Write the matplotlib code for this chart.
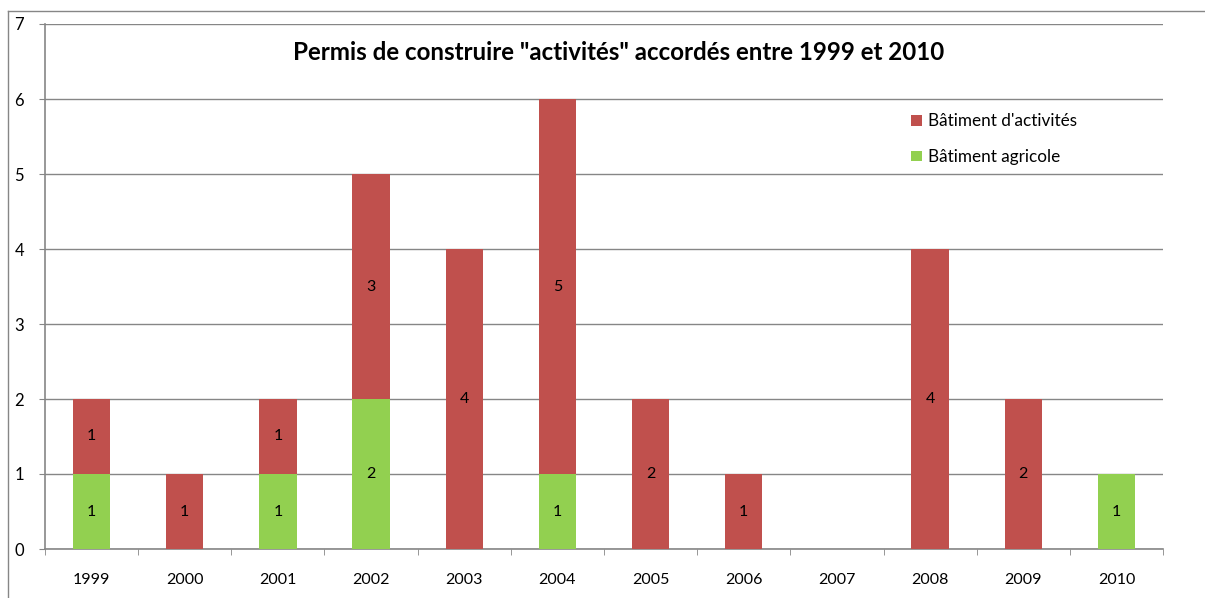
import numpy as np
import matplotlib.pyplot as plt
from matplotlib.lines import Line2D

annees = ["1999", "2000", "2001", "2002", "2003", "2004",
          "2005", "2006", "2007", "2008", "2009", "2010"]
agricole = [1, 0, 1, 2, 0, 1, 0, 0, 0, 0, 0, 1]
activites = [1, 1, 1, 3, 4, 5, 2, 1, 0, 4, 2, 0]

rouge = "#C0504D"
vert = "#92D050"
gris = "#868686"

plt.rcParams['font.family'] = ['Lato', 'DejaVu Sans']

fig = plt.figure(figsize=(12.05, 5.98), dpi=100)
ax = fig.add_axes([45 / 1205, 1 - 549 / 598, (1163 - 45) / 1205, (549 - 24) / 598])

# cadre du graphique
fig.add_artist(Line2D([8 / 1205, 8 / 1205], [0, 1 - 11 / 598], transform=fig.transFigure,
                      color=gris, lw=1))
fig.add_artist(Line2D([8 / 1205, 1.01], [1 - 11 / 598, 1 - 11 / 598], transform=fig.transFigure,
                      color=gris, lw=1))

x = np.arange(len(annees))
largeur = 0.4
b1 = ax.bar(x, agricole, largeur, color=vert, label="Bâtiment agricole", zorder=3)
b2 = ax.bar(x, activites, largeur, bottom=agricole, color=rouge,
            label="Bâtiment d'activités", zorder=3)

# valeurs au centre de chaque segment
for i in range(len(annees)):
    if agricole[i] > 0:
        ax.text(x[i], agricole[i] / 2, str(agricole[i]), ha="center", va="center",
                fontsize=11.5, zorder=4)
    if activites[i] > 0:
        ax.text(x[i], agricole[i] + activites[i] / 2, str(activites[i]), ha="center",
                va="center", fontsize=11.5, zorder=4)

ax.set_xlim(-0.5, len(annees) - 0.5)
ax.set_ylim(0, 7)
ax.set_yticks(range(8))
ax.yaxis.grid(True, color=gris, lw=1, zorder=0)
ax.set_axisbelow(True)

ax.set_xticks(x)
ax.set_xticklabels(annees, fontsize=11.5)
ax.set_xticks(np.arange(-0.5, len(annees), 1), minor=True)
ax.tick_params(axis="x", which="major", length=0, pad=17)
ax.tick_params(axis="x", which="minor", length=4, color=gris, direction="out")
ax.tick_params(axis="y", length=4, color=gris, labelsize=12, pad=11)

for s in ["top", "right"]:
    ax.spines[s].set_visible(False)
for s in ["left", "bottom"]:
    ax.spines[s].set_color(gris)
    ax.spines[s].set_linewidth(1.2)

fig.text(619 / 1205, 1 - 52 / 598, 'Permis de construire "activités" accordés entre 1999 et 2010',
         ha="center", va="center", fontsize=17.4, fontweight="bold")

ax.legend(handles=[b2, b1], loc="upper left", bbox_to_anchor=(896 / 1205, 0.836),
          frameon=False, fontsize=12.3, handlelength=0.6, handleheight=0.6,
          handletextpad=0.4, labelspacing=1.15, bbox_transform=fig.transFigure)

fig.savefig("out.png", dpi=100)
